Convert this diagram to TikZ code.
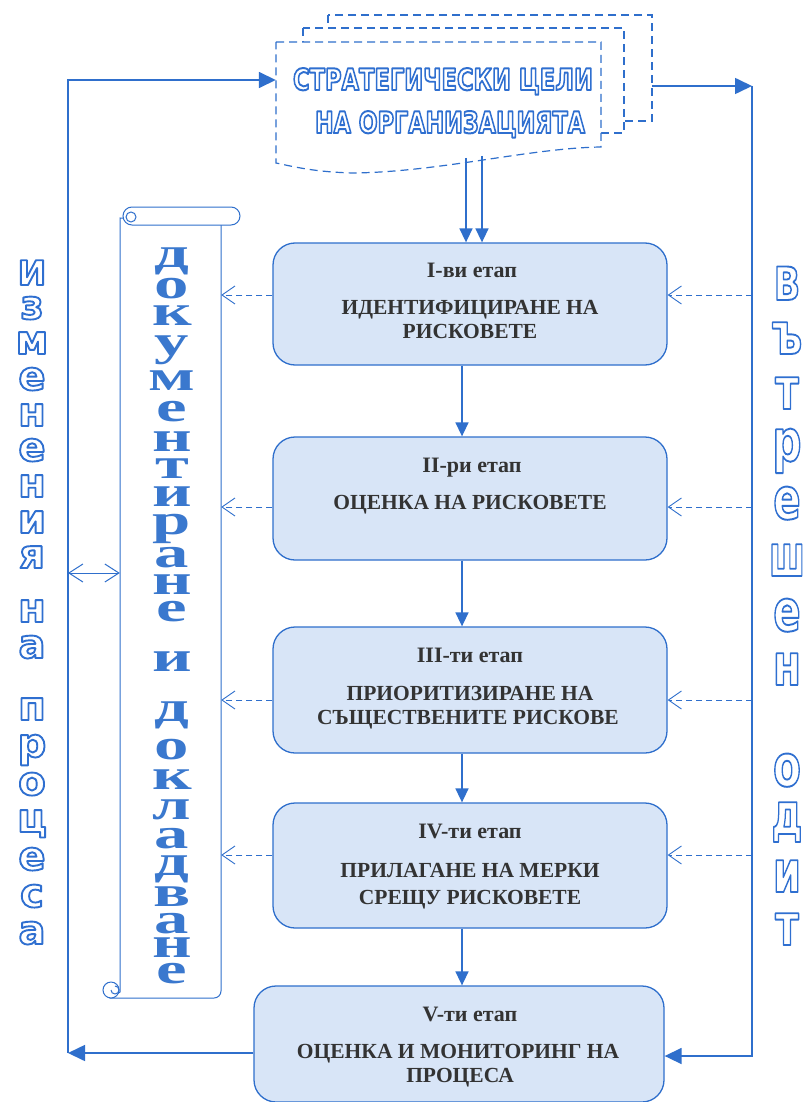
\documentclass[tikz,border=0pt]{standalone}
\usepackage{fontspec}
\setmainfont{Liberation Serif}
\newfontfamily\hollowfont{DejaVu Sans}
\usetikzlibrary{arrows.meta}
\definecolor{lineblue}{HTML}{2F6FCC}
\definecolor{boxfill}{HTML}{D8E5F7}
\definecolor{txtgray}{HTML}{333333}
\definecolor{hollowblue}{HTML}{2F6FD0}
\definecolor{scrollblue}{HTML}{3A78CE}
\newcommand\hollowtxt[1]{\special{pdf:literal direct 1 Tr 1.9 w 1 j}#1\special{pdf:literal direct 0 Tr}}
\newcommand\hollowthin[1]{\special{pdf:literal direct 1 Tr 2.0 w 1 j}#1\special{pdf:literal direct 0 Tr}}
\begin{document}
\begin{tikzpicture}[x=1pt,y=-1pt,
  stage/.style={draw=lineblue,line width=1.3pt,fill=boxfill,rounded corners=22pt,inner sep=0pt},
  stxt/.style={anchor=base,text=txtgray,font=\fontsize{21.5}{24}\selectfont\bfseries,inner sep=0pt},
  shead/.style={anchor=base,text=txtgray,font=\fontsize{22}{24}\selectfont\bfseries,inner sep=0pt},
  flow/.style={draw=lineblue,line width=1.6pt,-{Triangle[length=14pt,width=13pt]}},
  bigflow/.style={draw=lineblue,line width=1.6pt,-{Triangle[length=17pt,width=16pt]}},
  dasharr/.style={draw=lineblue,line width=0.9pt,dash pattern=on 6pt off 4pt,-{Straight Barb[length=13pt,width=18pt,line width=0.9pt]}},
  openarr/.style={draw=lineblue,line width=1pt,{Straight Barb[length=14pt,width=18pt,line width=1pt]}-{Straight Barb[length=14pt,width=18pt,line width=1pt]}},
  docline/.style={draw=lineblue,line width=1.2pt,dash pattern=on 8pt off 5pt},
  scrollline/.style={draw=lineblue,line width=1pt},
  lefthollow/.style={anchor=base,inner sep=0pt,text=hollowblue,font=\hollowfont\bfseries\fontsize{40}{40}\selectfont},
  righthollow/.style={anchor=base,inner sep=0pt,text=hollowblue,font=\hollowfont\bfseries\fontsize{58}{58}\selectfont},
  scrolltxt/.style={anchor=base,inner sep=0pt,text=scrollblue,font=\fontsize{43}{43}\selectfont\bfseries},
  anchorbox/.style={inner sep=0pt,draw=none}
]
\useasboundingbox (0,0) rectangle (805,1102);
\fill[white] (0,0) rectangle (805,1102);

% ---- document stack ----
\draw[docline,fill=white] (328,15) rectangle (652,121);
\draw[docline,fill=white] (303,28) rectangle (624,133);
\draw[docline,fill=white] (276,42) -- (601,42) -- (601,147)
  .. controls (530,148) and (440,172) .. (353,173)
  .. controls (315,172) and (295,167) .. (276,163) -- cycle;
\node[anchorbox,minimum width=325pt,minimum height=105pt] (doc) at (438.5,94.5) {};
\node[anchorbox,minimum width=324pt,minimum height=106pt] (docback) at (490,68) {};
\node[anchor=base,inner sep=0pt,text=hollowblue] (title1) at (443,90)
  {\resizebox{300pt}{22pt}{\hollowfont\bfseries\fontsize{30}{30}\selectfont\hollowthin{СТРАТЕГИЧЕСКИ ЦЕЛИ}}};
\node[anchor=base,inner sep=0pt,text=hollowblue] (title2) at (450,133)
  {\resizebox{270pt}{22pt}{\hollowfont\bfseries\fontsize{30}{30}\selectfont\hollowthin{НА ОРГАНИЗАЦИЯТА}}};

% ---- stage boxes ----
\node[stage,minimum width=394pt,minimum height=122pt] (box1) at (470,304) {};
\node[stage,minimum width=394pt,minimum height=123pt] (box2) at (470,498.5) {};
\node[stage,minimum width=394pt,minimum height=126pt] (box3) at (470,690) {};
\node[stage,minimum width=394pt,minimum height=125pt] (box4) at (470,865.5) {};
\node[stage,minimum width=410pt,minimum height=116pt] (box5) at (459,1044) {};

\node[shead] (h1) at (472,277) {I-ви етап};
\node[stxt] (a1) at (470,314) {ИДЕНТИФИЦИРАНЕ НА};
\node[stxt] (b1) at (470,338) {РИСКОВЕТЕ};
\node[shead] (h2) at (472,472) {II-ри етап};
\node[stxt] (a2) at (470,509) {ОЦЕНКА НА РИСКОВЕТЕ};
\node[shead] (h3) at (470,662) {III-ти етап};
\node[stxt] (a3) at (470,700) {ПРИОРИТИЗИРАНЕ НА};
\node[stxt] (b3) at (468,724) {СЪЩЕСТВЕНИТЕ РИСКОВЕ};
\node[shead] (h4) at (470,838) {IV-ти етап};
\node[stxt] (a4) at (470,877) {ПРИЛАГАНЕ НА МЕРКИ};
\node[stxt] (b4) at (470,904) {СРЕЩУ РИСКОВЕТЕ};
\node[shead] (h5) at (470,1021) {V-ти етап};
\node[stxt] (a5) at (458,1058) {ОЦЕНКА И МОНИТОРИНГ НА};
\node[stxt] (b5) at (460,1082) {ПРОЦЕСА};

% ---- helper coordinates ----
\coordinate (L) at (68,0);
\coordinate (R) at (752,0);
\coordinate (ax) at (462,0);
\coordinate (d1) at (466,158);
\coordinate (d2) at (482,156);
\coordinate (yt) at (0,80);
\coordinate (yt2) at (0,86);
\coordinate (yb) at (0,1053);
\coordinate (yb2) at (0,1056);
\coordinate (y1) at (0,295);
\coordinate (y2) at (0,507);
\coordinate (y3) at (0,700);
\coordinate (y4) at (0,855);
\coordinate (yd) at (0,573);

% ---- main flow ----
\draw[flow] (d1) -- (d1 |- box1.north);
\draw[flow] (d2) -- (d2 |- box1.north);
\draw[flow] (ax |- box1.south) -- (ax |- box2.north);
\draw[flow] (ax |- box2.south) -- (ax |- box3.north);
\draw[flow] (ax |- box3.south) -- (ax |- box4.north);
\draw[flow] (ax |- box4.south) -- (ax |- box5.north);

% ---- outer loops ----
\draw[bigflow] (box5.west |- yb) -- (L |- yb);
\draw[bigflow] (L |- yb) -- (L |- yt) -- (doc.west |- yt);
\draw[bigflow] (docback.east |- yt2) -- (R |- yt2);
\draw[bigflow] (R |- yt2) -- (R |- yb2) -- (box5.east |- yb2);

% ---- scroll ----
\node[anchorbox,minimum width=101pt,minimum height=782pt] (scroll) at (170.5,607) {};
\draw[scrollline,fill=white] (120,218) -- (120,992) -- (111,998) -- (214,998)
  arc[start angle=90,end angle=0,radius=7] -- (221,222) -- cycle;
\draw[scrollline,fill=white] (111,990) circle[radius=8];
\draw[scrollline] (111,990) arc[start angle=180,end angle=-90,radius=4];
\draw[scrollline,fill=white,rounded corners=9pt] (123,207) rectangle (240,225);
\draw[scrollline] (131,217) circle[radius=5];

\foreach \ch/\yy [count=\i] in {д/267,о/298,к/325,у/355,м/390,е/421,н/451,т/478,и/506,р/534,а/567,н/594,е/621,и/671,д/721,о/759,к/789,л/819,а/848,д/875,в/906,а/933,н/957,е/983}
  \node[scrolltxt] (s\i) at (172,\yy) {\scalebox{1.6}[1]{\ch}};

% ---- side texts ----
\node[lefthollow,font=\hollowfont\bfseries\fontsize{34}{34}\selectfont] (lz) at (32,285) {\hollowtxt{И}};
\foreach \ch/\yy [count=\i] in {з/319,м/354,е/390,н/426,е/461,н/497,и/533,я/568,н/622,а/658,п/720,р/757,о/795,ц/832,е/870,с/907,а/944}
  \node[lefthollow] (l\i) at (32,\yy) {\hollowtxt{\ch}};

\node[righthollow,font=\hollowfont\bfseries\fontsize{46}{46}\selectfont] (rz) at (787,300) {\scalebox{0.75}[1]{\hollowtxt{В}}};
\foreach \ch/\yy/\sc [count=\i] in {ъ/354/0.7,т/409/0.7,р/461/0.7,е/519/0.7,ш/576/0.58,е/631/0.7,н/685/0.7,о/786/0.7,д/834/0.66,и/892/0.7,т/945/0.7}
  \node[righthollow] (r\i) at (787,\yy) {\scalebox{\sc}[1]{\hollowtxt{\ch}}};

% ---- dashed links ----
\foreach \k in {1,2,3,4}{
  \draw[dasharr] (R |- y\k) -- (box\k.east |- y\k);
  \draw[dasharr] (box\k.west |- y\k) -- (scroll.east |- y\k);
}
\draw[openarr] (L |- yd) -- (scroll.west |- yd);
\end{tikzpicture}
\end{document}
